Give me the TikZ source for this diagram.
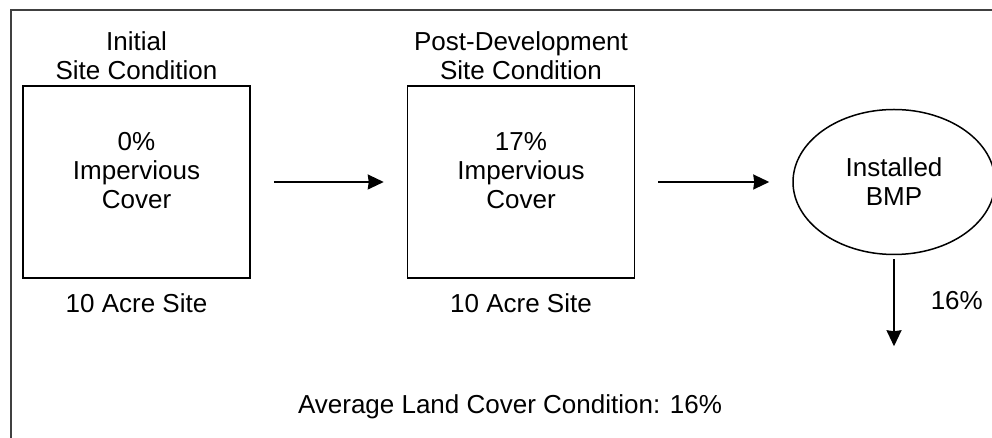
\documentclass[tikz,border=0pt]{standalone}
\usepackage{fontspec}
\setmainfont{Liberation Sans}
\usetikzlibrary{arrows.meta,positioning,shapes.geometric}

\begin{document}
\begin{tikzpicture}[x=1pt, y=1pt, >={Stealth[length=16pt,width=15pt,inset=1pt]}, line width=1.5pt, node distance=156pt,
    every node/.style={font=\fontsize{26}{29}\selectfont, align=center, inner sep=0pt},
    site/.style={draw, minimum width=227pt, minimum height=192pt},
    bmpnode/.style={draw, ellipse, minimum width=202pt, minimum height=145pt},
    flow/.style={->, shorten <=23pt, shorten >=23pt}]
    \clip (0,0) rectangle (992,438);
    % Frame (cut off at the right and bottom)
    \draw [line width=2.4pt, black!75] (11,-5) -- (11,428) -- (1000,428);

    % Nodes {init, post, bmp}
    \node [site]                (init)  at (136.5,256)          {};
    \node [site]                (post)  [right=of init]         {};
    \node [bmpnode]             (bmp)   [right=157pt of post]   {Installed\\BMP};
    \node (inittxt) at ([yshift=11pt]init.center)   {0\%\\Impervious\\Cover};
    \node (posttxt) at ([yshift=11pt]post.center)   {17\%\\Impervious\\Cover};

    % Labels
    \node (inittitle)   [above=5pt of init]     {Initial\\Site Condition};
    \node (posttitle)   [above=5pt of post]     {Post-Development\\Site Condition};
    \node (initsite)    [below=14pt of init]    {10 Acre Site};
    \node (postsite)    [below=14pt of post]    {10 Acre Site};
    \coordinate [below=91pt of bmp.south] (out);
    \node (average) at (510,31)                 {Average Land Cover Condition: 16\%};

    % Paths
    \path [flow]    (init) edge                         (post);
    \path [flow]    (post) edge                         (bmp);
    \path [->]      (bmp)  edge [shorten <=4pt] node [right=36pt] {16\%} (out);

    \end{tikzpicture}
\end{document}
